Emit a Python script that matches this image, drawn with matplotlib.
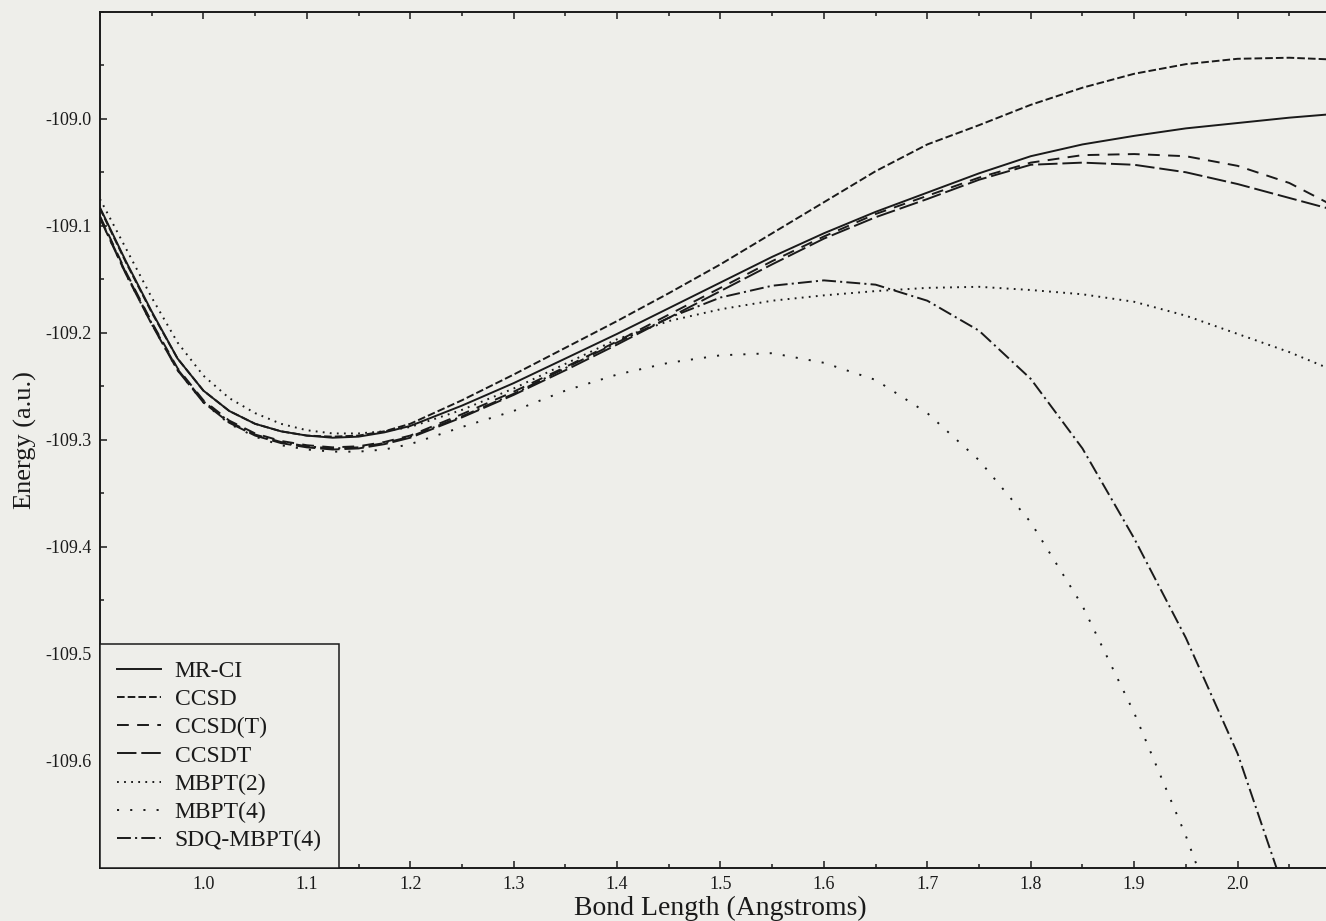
import numpy as np
import matplotlib
matplotlib.use("Agg")
import matplotlib.pyplot as plt
from matplotlib.ticker import MultipleLocator

bond = [0.900, 0.925, 0.950, 0.975, 1.000, 1.025, 1.050, 1.075, 1.100, 1.125,
        1.150, 1.175, 1.200, 1.250, 1.300, 1.350, 1.400, 1.450, 1.500, 1.550,
        1.600, 1.650, 1.700, 1.750, 1.800, 1.850, 1.900, 1.950, 2.000, 2.050, 2.100]

mrci = [-109.083, -109.133, -109.180, -109.224, -109.254, -109.273, -109.285, -109.292,
        -109.296, -109.298, -109.297, -109.293, -109.287, -109.268, -109.247, -109.224,
        -109.201, -109.177, -109.153, -109.129, -109.107, -109.087, -109.069, -109.051,
        -109.035, -109.024, -109.016, -109.009, -109.004, -108.999, -108.995]
ccsd = [-109.084, -109.134, -109.181, -109.224, -109.254, -109.273, -109.285, -109.292,
        -109.296, -109.297, -109.296, -109.292, -109.285, -109.263, -109.239, -109.214,
        -109.189, -109.163, -109.136, -109.107, -109.078, -109.049, -109.024, -109.006,
        -108.987, -108.971, -108.958, -108.949, -108.944, -108.943, -108.945]
ccsd_t = [-109.091, -109.143, -109.190, -109.233, -109.263, -109.282, -109.294, -109.301,
          -109.305, -109.307, -109.306, -109.302, -109.296, -109.276, -109.255, -109.232,
          -109.208, -109.183, -109.158, -109.133, -109.110, -109.089, -109.072, -109.055,
          -109.041, -109.034, -109.033, -109.035, -109.044, -109.060, -109.085]
ccsdt = [-109.093, -109.145, -109.192, -109.235, -109.265, -109.284, -109.296, -109.303,
         -109.307, -109.309, -109.308, -109.304, -109.298, -109.279, -109.258, -109.235,
         -109.211, -109.186, -109.161, -109.136, -109.112, -109.092, -109.075, -109.057,
         -109.043, -109.041, -109.043, -109.050, -109.061, -109.074, -109.087]
mbpt2 = [-109.075, -109.121, -109.167, -109.209, -109.240, -109.261, -109.275, -109.285,
         -109.291, -109.294, -109.294, -109.292, -109.288, -109.272, -109.252, -109.229,
         -109.206, -109.189, -109.178, -109.170, -109.165, -109.161, -109.158, -109.157,
         -109.160, -109.164, -109.171, -109.184, -109.201, -109.218, -109.238]
mbpt4 = [-109.093, -109.145, -109.192, -109.235, -109.265, -109.285, -109.297, -109.305,
         -109.309, -109.311, -109.311, -109.309, -109.304, -109.288, -109.273, -109.254,
         -109.239, -109.228, -109.221, -109.219, -109.228, -109.244, -109.275, -109.319,
         -109.377, -109.455, -109.555, -109.670, -109.800, -109.950, -110.100]
sdq = [-109.092, -109.144, -109.191, -109.234, -109.264, -109.283, -109.295, -109.302,
       -109.306, -109.308, -109.307, -109.303, -109.297, -109.278, -109.257, -109.233,
       -109.209, -109.186, -109.167, -109.156, -109.151, -109.155, -109.170, -109.198,
       -109.243, -109.308, -109.392, -109.485, -109.593, -109.735, -109.900]

names = ["MR-CI", "CCSD", "CCSD(T)", "CCSDT", "MBPT(2)", "MBPT(4)", "SDQ-MBPT(4)"]

xticks = [1.0, 1.1, 1.2, 1.3, 1.4, 1.5, 1.6, 1.7, 1.8, 1.9, 2.0]
xticklabels = ["1.0", "1.1", "1.2", "1.3", "1.4", "1.5", "1.6", "1.7", "1.8", "1.9", "2.0"]
yticks = [-109.0, -109.1, -109.2, -109.3, -109.4, -109.5, -109.6]
yticklabels = ["-109.0", "-109.1", "-109.2", "-109.3", "-109.4", "-109.5", "-109.6"]

plt.rcParams['font.family'] = ['Liberation Serif', 'DejaVu Serif']
plt.rcParams['lines.scale_dashes'] = False

paper = '#eeeeea'
ink = '#1a1a1a'

# line styles (on/off in points) roughly as printed
styles = [
    dict(linestyle='-'),
    dict(dashes=(5.5, 2.2)),
    dict(dashes=(8.5, 6.0)),
    dict(dashes=(14.0, 3.5)),
    dict(dashes=(1.3, 3.8)),
    dict(dashes=(1.5, 8.0)),
    dict(dashes=(10.0, 3.0, 1.5, 3.0)),
]

fig = plt.figure(figsize=(13.26, 9.21), dpi=100, facecolor=paper)
# the scan cuts the frame off on the right, so the axes run past the figure edge
ax = fig.add_axes([0.0754, 0.0575, 0.9359, 0.9298], facecolor=paper)

series = [mrci, ccsd, ccsd_t, ccsdt, mbpt2, mbpt4, sdq]
for i in range(len(series)):
    ax.plot(bond, series[i], color=ink, lw=1.4, label=names[i], **styles[i])

ax.set_xlim(0.9, 2.1)
ax.set_ylim(-109.7, -108.9)
ax.set_xticks(xticks)
ax.set_xticklabels(xticklabels)
ax.set_yticks(yticks)
ax.set_yticklabels(yticklabels)
ax.xaxis.set_minor_locator(MultipleLocator(0.05))
ax.yaxis.set_minor_locator(MultipleLocator(0.05))
ax.tick_params(which='both', direction='in', top=True, right=True, color=ink, width=1.1)
ax.tick_params(which='major', length=5, labelsize=13, labelcolor=ink)
ax.tick_params(which='minor', length=2.8)
ax.tick_params(axis='x', pad=6)
ax.tick_params(axis='y', pad=6)
for s in ax.spines.values():
    s.set_linewidth(1.4)
    s.set_color(ink)

ax.set_xlabel("Bond Length (Angstroms)", fontsize=20, color=ink, labelpad=2)
ax.set_ylabel("Energy (a.u.)", fontsize=19, color=ink, labelpad=6)

leg = ax.legend(loc='lower left', borderaxespad=0, fontsize=17, frameon=True,
                fancybox=False, edgecolor=ink, facecolor=paper, framealpha=1,
                handlelength=1.85, handletextpad=0.6, borderpad=0.72, labelspacing=0.28)
leg.get_frame().set_linewidth(1.1)
for t in leg.get_texts():
    t.set_color(ink)

fig.savefig("out.png", dpi=100, facecolor=paper)
